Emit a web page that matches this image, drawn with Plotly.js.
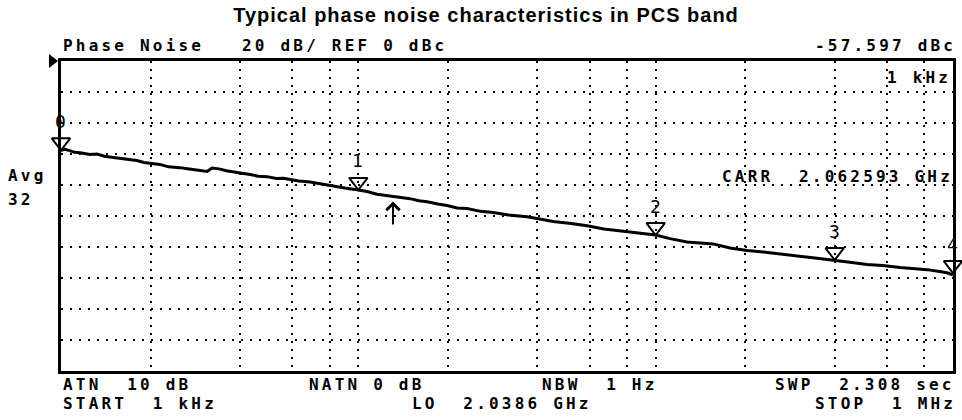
<!DOCTYPE html>
<html>
<head>
<meta charset="utf-8">
<script src="https://cdn.plot.ly/plotly-3.0.1.min.js"></script>
<style>
  html, body { margin: 0; padding: 0; background: #fff; }
  #chart { width: 962px; height: 420px; }
  .annotation-text { letter-spacing: 3.2px; }
  .gtitle { letter-spacing: 1px; }
</style>
</head>
<body>
<div id="chart"></div>
<script>
// ---- data ----
const freqHz = [1000, 1030, 1070, 1110, 1160, 1250, 1320, 1400, 1500, 1580, 1680, 1800, 1900, 1990,
  2150, 2300, 2510, 2700, 2900, 3100, 3220, 3400, 3600, 3790, 4050, 4330, 4600, 4930, 5300, 5600,
  5890, 6300, 6880, 7500, 8220, 9000, 10000, 10700, 11550, 12300, 13080, 14000, 14930, 16000, 17030,
  18500, 19870, 21500, 23200, 25800, 28400, 32000, 36900, 39900, 45200, 52000, 58800, 67000, 75900,
  87000, 100000, 111700, 127500, 137800, 156000, 178000, 203000, 230000, 262000, 300000, 338000,
  395000, 450000, 514000, 580000, 664000, 740000, 818000, 900000, 955000, 1000000];
const levelDbc = [-57.6, -56.9, -57.8, -58.9, -59.2, -60.3, -60.0, -61.4, -62.2, -62.9, -63.6, -64.2, -65.5, -66.0,
  -66.7, -68.3, -68.8, -69.7, -70.5, -71.3, -69.0, -69.6, -70.8, -71.3, -72.4, -73.2, -74.4, -74.6, -75.8, -75.6,
  -76.4, -77.4, -78.0, -79.4, -80.8, -82.0, -83.2, -84.2, -86.0, -86.6, -87.4, -88.0, -88.8, -90.2, -90.8,
  -92.2, -93.2, -94.8, -95.2, -97.0, -97.8, -99.4, -100.5, -101.6, -103.5, -104.8, -106.3, -108.4, -109.6,
  -111.0, -112.3, -114.6, -116.8, -117.2, -118.0, -120.6, -122.2, -123.2, -124.3, -125.8, -127.0,
  -128.3, -129.8, -131.3, -132.0, -133.3, -134.0, -134.6, -135.8, -136.6, -138.0];

const markerFreq = [1000, 10000, 100000, 400000, 1000000];
const markerLevel = [-57.6, -83.2, -112.3, -128.4, -136.8];
const markerLabels = ["0", "1", "2", "3", "4"];

const arrowFreq = 13080;
const arrowLevel = -87.4;

const refLevel = 0;          // REF 0 dBc
const startFreq = 1000;      // START 1 kHz
const stopFreq = 1000000;    // STOP 1 MHz
const dbPerDiv = 20;
const divisions = 10;
const gridFreqs = [2000, 4000, 6000, 8000, 10000, 20000, 40000, 60000, 80000, 100000,
  200000, 400000, 600000, 800000];

const titleText = "Typical phase noise characteristics in PCS band";
const infoTexts = ["Phase Noise", "20 dB/ REF 0 dBc", "-57.597 dBc", "1 kHz", "Avg", "32",
  "CARR  2.062593 GHz", "ATN  10 dB", "START  1 kHz", "NATN 0 dB", "LO  2.0386 GHz",
  "NBW  1 Hz", "SWP  2.308 sec", "STOP  1 MHz"];

// ---- layout (pixel positions of the info texts) ----
const infoPos = [[61, 45], [240, 45], [813, 45], [885, 77], [6, 175], [6, 199],
  [720, 176], [61, 384], [61, 403], [307, 384], [410, 403],
  [540, 384], [773, 384], [813, 403]];

const L = 61, R = 9, T = 61, B = 49, W = 962, H = 420;
const pw = W - L - R, ph = H - T - B;
const mono = "DejaVu Sans Mono";

const annotations = [];
infoTexts.forEach((t, i) => {
  annotations.push({
    xref: "paper", yref: "paper",
    x: (infoPos[i][0] - L) / pw, y: (H - B - infoPos[i][1]) / ph,
    xanchor: "left", yanchor: "middle",
    text: t.replace(/ /g, "\u00a0"), showarrow: false,
    font: { family: mono, size: 16, color: "#000", weight: "bold" }
  });
});
markerFreq.forEach((f, i) => {
  annotations.push({
    xref: "x", yref: "y", x: Math.log10(f), y: markerLevel[i],
    text: markerLabels[i], showarrow: false, yshift: 29, xshift: 1,
    xanchor: "center", yanchor: "middle",
    font: { family: mono, size: 18, color: "#000" }
  });
});
annotations.push({
  xref: "x", yref: "y", x: Math.log10(arrowFreq), y: arrowLevel,
  text: " ", showarrow: true, ax: 0, ay: 30, standoff: 5,
  arrowhead: 4, arrowwidth: 2, arrowsize: 1.3, arrowcolor: "#000",
  font: { size: 1 }
});

const traces = [
  {
    x: freqHz, y: levelDbc, type: "scatter", mode: "lines",
    line: { color: "#000", width: 3 }, hoverinfo: "skip"
  },
  {
    x: markerFreq, y: markerLevel, type: "scatter", mode: "markers", cliponaxis: false,
    marker: { symbol: "triangle-up-open", angle: 180, standoff: 8, size: 16,
      color: "#000", line: { color: "#000", width: 2 } }, hoverinfo: "skip"
  },
  {
    x: [startFreq], y: [refLevel], type: "scatter", mode: "markers", cliponaxis: false,
    marker: { symbol: "triangle-up", angle: 90, standoff: 9, size: 12, color: "#000",
      line: { width: 0 } }, hoverinfo: "skip"
  }
];

const axisCommon = {
  showline: true, mirror: true, linecolor: "#000", linewidth: 3,
  showgrid: true, gridcolor: "#000", gridwidth: 2,
  zeroline: false, showticklabels: false, ticks: "", fixedrange: true
};

const layout = {
  width: W, height: H,
  margin: { l: L, r: R, t: T, b: B, pad: 0 },
  paper_bgcolor: "#fff", plot_bgcolor: "#fff",
  showlegend: false,
  title: {
    text: titleText, xref: "container", yref: "container",
    x: 486 / W, y: 1 - 15 / H, xanchor: "center", yanchor: "middle",
    font: { family: "Liberation Sans", size: 20, color: "#000", weight: "bold" }
  },
  xaxis: Object.assign({}, axisCommon, {
    type: "log", range: [Math.log10(startFreq) - 1e-6, Math.log10(stopFreq) + 1e-6],
    tickmode: "array", tickvals: gridFreqs, griddash: "2px,6px"
  }),
  yaxis: Object.assign({}, axisCommon, {
    range: [refLevel - dbPerDiv * divisions - 1e-6, refLevel + 1e-6],
    tick0: refLevel, dtick: dbPerDiv, griddash: "2px,7px"
  }),
  annotations: annotations
};

Plotly.newPlot("chart", traces, layout, { displayModeBar: false, staticPlot: true });
</script>
</body>
</html>
